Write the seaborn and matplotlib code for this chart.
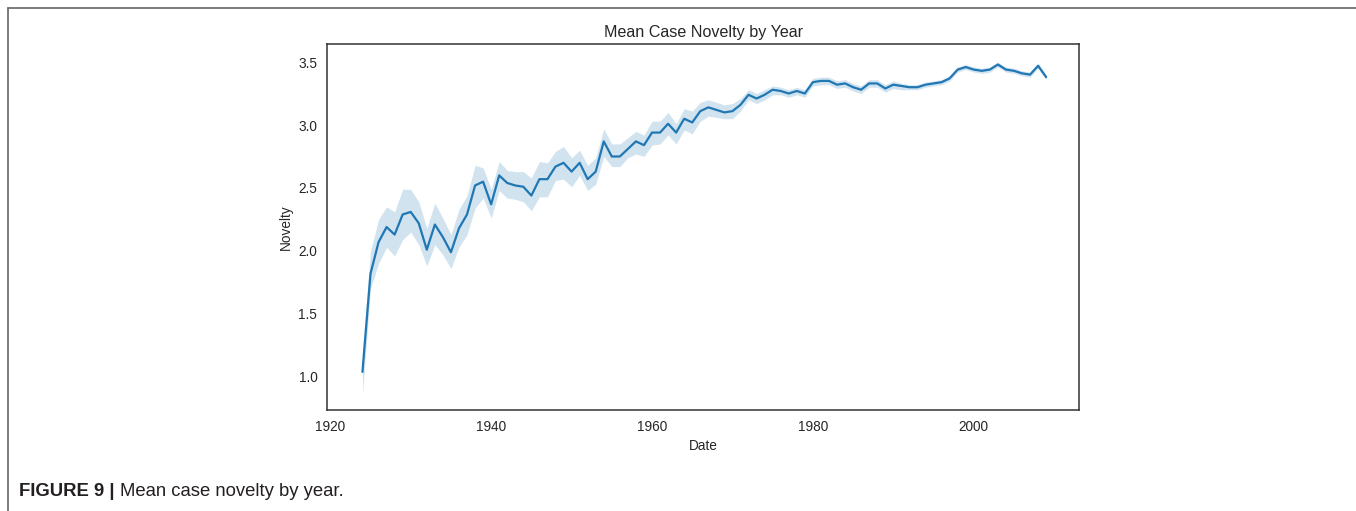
import matplotlib
matplotlib.use("Agg")
import matplotlib.pyplot as plt
from matplotlib.lines import Line2D
import seaborn as sns
import pandas as pd

# Mean case novelty per year
years = list(range(1924, 2010))

novelty = [
    1.04, 1.82, 2.07, 2.19, 2.13, 2.29, 2.31, 2.22, 2.01, 2.21,  # 1924-1933
    2.11, 1.99, 2.18, 2.29, 2.52, 2.55, 2.37, 2.60, 2.54, 2.52,  # 1934-1943
    2.51, 2.44, 2.57, 2.57, 2.67, 2.70, 2.63, 2.70, 2.57, 2.63,  # 1944-1953
    2.87, 2.75, 2.75, 2.81, 2.87, 2.84, 2.94, 2.94, 3.01, 2.94,  # 1954-1963
    3.05, 3.02, 3.11, 3.14, 3.12, 3.10, 3.11, 3.16, 3.24, 3.21,  # 1964-1973
    3.24, 3.28, 3.27, 3.25, 3.27, 3.25, 3.34, 3.35, 3.35, 3.32,  # 1974-1983
    3.33, 3.30, 3.28, 3.33, 3.33, 3.29, 3.32, 3.31, 3.30, 3.30,  # 1984-1993
    3.32, 3.33, 3.34, 3.37, 3.44, 3.46, 3.44, 3.43, 3.44, 3.48,  # 1994-2003
    3.44, 3.43, 3.41, 3.40, 3.47, 3.38,                          # 2004-2009
]

ci_lower = [
    0.86, 1.70, 1.90, 2.03, 1.96, 2.09, 2.15, 2.05, 1.88, 2.05,
    1.97, 1.86, 2.03, 2.13, 2.34, 2.42, 2.26, 2.48, 2.42, 2.41,
    2.39, 2.32, 2.43, 2.43, 2.56, 2.57, 2.51, 2.60, 2.48, 2.53,
    2.75, 2.67, 2.67, 2.74, 2.77, 2.75, 2.84, 2.85, 2.92, 2.85,
    2.96, 2.93, 3.03, 3.07, 3.06, 3.05, 3.05, 3.11, 3.20, 3.17,
    3.20, 3.24, 3.24, 3.22, 3.24, 3.22, 3.31, 3.32, 3.32, 3.29,
    3.30, 3.27, 3.25, 3.30, 3.30, 3.26, 3.29, 3.28, 3.28, 3.28,
    3.30, 3.31, 3.32, 3.35, 3.42, 3.44, 3.42, 3.41, 3.42, 3.46,
    3.42, 3.41, 3.39, 3.38, 3.45, 3.36,
]

ci_upper = [
    1.20, 2.00, 2.25, 2.35, 2.31, 2.49, 2.49, 2.39, 2.18, 2.38,
    2.26, 2.13, 2.33, 2.44, 2.68, 2.66, 2.49, 2.71, 2.64, 2.63,
    2.63, 2.58, 2.71, 2.70, 2.79, 2.83, 2.74, 2.80, 2.68, 2.74,
    2.97, 2.85, 2.85, 2.90, 2.95, 2.92, 3.03, 3.03, 3.10, 3.01,
    3.13, 3.11, 3.18, 3.20, 3.18, 3.16, 3.17, 3.21, 3.28, 3.25,
    3.28, 3.31, 3.30, 3.28, 3.30, 3.28, 3.37, 3.38, 3.38, 3.35,
    3.36, 3.33, 3.31, 3.36, 3.36, 3.32, 3.35, 3.33, 3.32, 3.32,
    3.34, 3.35, 3.36, 3.39, 3.46, 3.48, 3.46, 3.45, 3.46, 3.50,
    3.46, 3.45, 3.43, 3.42, 3.49, 3.40,
]

x_ticks = [1920, 1940, 1960, 1980, 2000]
y_ticks = [1.0, 1.5, 2.0, 2.5, 3.0, 3.5]

df = pd.DataFrame({"Date": years, "Novelty": novelty,
                   "lower": ci_lower, "upper": ci_upper})

sns.set_style("white")
plt.rcParams["font.family"] = ["Liberation Sans", "DejaVu Sans"]

fig = plt.figure(figsize=(13.56, 5.11), dpi=100)
ax = fig.add_axes([0.2412, 0.1977, 0.5546, 0.7162])

line_color = sns.color_palette()[0]
sns.lineplot(data=df, x="Date", y="Novelty", ax=ax, color=line_color,
             linewidth=1.6, errorbar=None)
ax.fill_between(df["Date"], df["lower"], df["upper"], color=line_color,
                alpha=0.2, linewidth=0)

ax.set_xlim(1919.6, 2013.1)
ax.set_ylim(0.738, 3.643)
ax.set_xticks(x_ticks)
ax.set_yticks(y_ticks)
ax.tick_params(labelsize=9.8, colors=".15")
ax.set_title("Mean Case Novelty by Year", fontsize=11.6, color=".15", pad=5)
ax.set_xlabel("Date", fontsize=9.8, color=".15")
ax.set_ylabel("Novelty", fontsize=9.8, color=".15")
for s in ax.spines.values():
    s.set_color(".2")
    s.set_linewidth(1.1)

# journal figure frame (top and left rules)
W, H = 1356, 511
fig.add_artist(Line2D([8 / W, 1.0], [1 - 8 / H, 1 - 8 / H], color="#666666", linewidth=1.2))
fig.add_artist(Line2D([8 / W, 8 / W], [0.0, 1 - 8 / H], color="#666666", linewidth=1.2))

# caption
cap = fig.text(19 / W, 1 - 492 / H, "FIGURE 9 | ", fontsize=13.3,
               fontweight="bold", va="center", ha="left", color="#231f20")
fig.canvas.draw()
bb = cap.get_window_extent()
fig.text(bb.x1 / W, 1 - 492 / H, "Mean case novelty by year.", fontsize=13.3,
         va="center", ha="left", color="#231f20")

fig.savefig("out.png", dpi=100)
